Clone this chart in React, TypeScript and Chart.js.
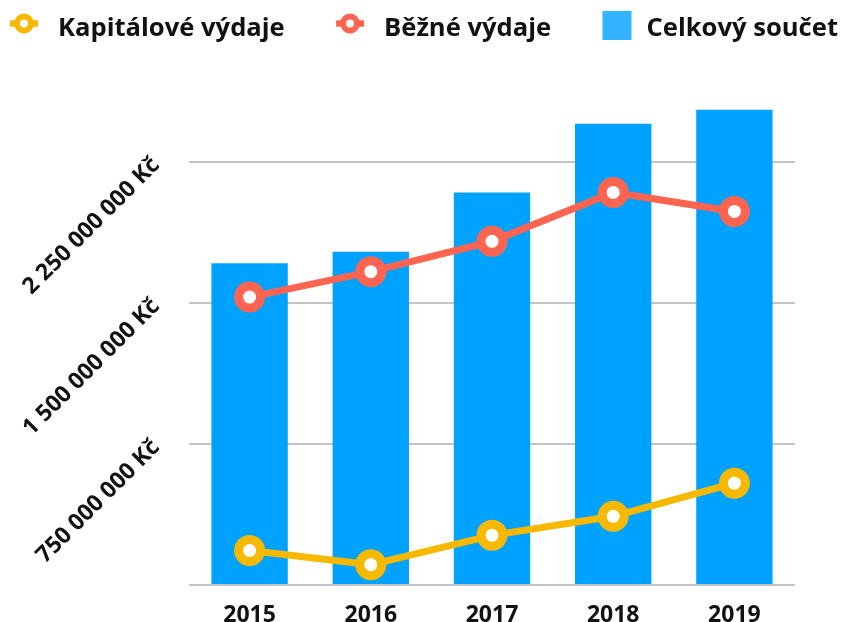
import React, { useEffect, useRef } from 'react';
import { Chart, registerables } from 'chart.js';

Chart.register(...registerables);

// ---- data ----
const years = ['2015', '2016', '2017', '2018', '2019'];
const capitalExpenses = [183e6, 108e6, 264e6, 365e6, 541e6];
const currentExpenses = [1530e6, 1665e6, 1826e6, 2086e6, 1985e6];
const totalExpenses = [1710e6, 1771e6, 2086e6, 2451e6, 2525e6];
const seriesLabels = ['Kapitálové výdaje', 'Běžné výdaje', 'Celkový součet'];
const yTickValues = [0, 750e6, 1500e6, 2250e6];
const yMax = 2625e6;

// ---- styles ----
const YELLOW = '#f7b900';
const RED = '#ff6450';
const BLUE = '#00a2ff';
const BLUE_LEGEND = '#33b4ff';
const TEXT = '#111111';
const GRID = '#c4c4c4';
const FONT = '"Open Sans", "Noto Sans", "DejaVu Sans", sans-serif';

function formatKc(v: number): string {
  return Math.round(v).toString().replace(/\B(?=(\d{3})+(?!\d))/g, ' ') + ' Kč';
}

const topLegend = {
  id: 'topLegend',
  afterDraw(chart: any) {
    const ctx: CanvasRenderingContext2D = chart.ctx;
    ctx.save();
    ctx.font = `bold 25.6px ${FONT}`;
    const specs = chart.data.datasets.map((ds: any) => {
      const isLine = ds.type === 'line';
      const iconW = isLine ? 28 : 29;
      const gap = isLine ? 20 : 15;
      const tw = ctx.measureText(ds.label).width;
      return {
        text: ds.label,
        color: isLine ? ds.borderColor : BLUE_LEGEND,
        isLine,
        iconW,
        gap,
        w: iconW + gap + tw,
      };
    });
    const left = 10;
    const right = chart.width - 6;
    const total = specs.reduce((s: number, it: any) => s + it.w, 0);
    const between = (right - left - total) / Math.max(1, specs.length - 1);
    let x = left;
    for (const s of specs) {
      if (s.isLine) {
        const cy = 23.5;
        ctx.strokeStyle = s.color;
        ctx.lineWidth = 6.5;
        ctx.beginPath();
        ctx.moveTo(x, cy);
        ctx.lineTo(x + s.iconW, cy);
        ctx.stroke();
        ctx.beginPath();
        ctx.arc(x + s.iconW / 2, cy, 7, 0, Math.PI * 2);
        ctx.fillStyle = '#ffffff';
        ctx.fill();
        ctx.lineWidth = 6;
        ctx.stroke();
      } else {
        ctx.fillStyle = s.color;
        ctx.fillRect(x, 11, s.iconW, 29);
      }
      ctx.fillStyle = TEXT;
      ctx.textAlign = 'left';
      ctx.textBaseline = 'alphabetic';
      ctx.fillText(s.text, x + s.iconW + s.gap, 36);
      x += s.w + between;
    }
    ctx.restore();
  },
};

export default function App() {
  const canvasRef = useRef<HTMLCanvasElement | null>(null);

  useEffect(() => {
    document.body.style.margin = '0';
    if (!canvasRef.current) return;
    const tickFont = { family: FONT, size: 23, weight: 'bold' as const };
    const chart = new Chart(canvasRef.current, {
      type: 'bar',
      data: {
        labels: years,
        datasets: [
          {
            type: 'line',
            label: seriesLabels[0],
            data: capitalExpenses,
            borderColor: YELLOW,
            backgroundColor: YELLOW,
            borderWidth: 7,
            pointRadius: 11,
            pointBorderWidth: 9,
            pointBackgroundColor: '#ffffff',
            pointBorderColor: YELLOW,
            tension: 0,
          },
          {
            type: 'line',
            label: seriesLabels[1],
            data: currentExpenses,
            borderColor: RED,
            backgroundColor: RED,
            borderWidth: 7,
            pointRadius: 11,
            pointBorderWidth: 9,
            pointBackgroundColor: '#ffffff',
            pointBorderColor: RED,
            tension: 0,
          },
          {
            type: 'bar',
            label: seriesLabels[2],
            data: totalExpenses,
            backgroundColor: BLUE,
            borderWidth: 0,
            barPercentage: 1,
            categoryPercentage: 0.63,
          },
        ],
      } as any,
      options: {
        responsive: true,
        maintainAspectRatio: false,
        animation: false,
        layout: { padding: { top: 91, right: 49, left: 0, bottom: 0 } },
        plugins: {
          legend: { display: false },
          tooltip: { enabled: false },
        },
        scales: {
          x: {
            grid: { display: false },
            border: { display: false },
            ticks: { font: tickFont, color: TEXT, padding: 9 },
            afterFit: (s: any) => {
              s.height = 37;
            },
          },
          y: {
            min: 0,
            max: yMax,
            grid: { color: GRID, lineWidth: 2, drawTicks: false },
            border: { display: false },
            ticks: {
              autoSkip: false,
              minRotation: 45,
              maxRotation: 45,
              padding: 33,
              font: tickFont,
              color: TEXT,
              callback: (v: any) => (Number(v) === 0 ? '' : formatKc(Number(v))),
            },
            afterBuildTicks: (s: any) => {
              s.ticks = yTickValues.map((value) => ({ value }));
            },
            afterFit: (s: any) => {
              s.width = 189;
              s.paddingTop = 0;
              s.paddingBottom = 0;
            },
          },
        },
      } as any,
      plugins: [topLegend],
    });
    return () => chart.destroy();
  }, []);

  return (
    <div style={{ position: 'relative', width: 844, height: 622 }}>
      <canvas ref={canvasRef} />
    </div>
  );
}
